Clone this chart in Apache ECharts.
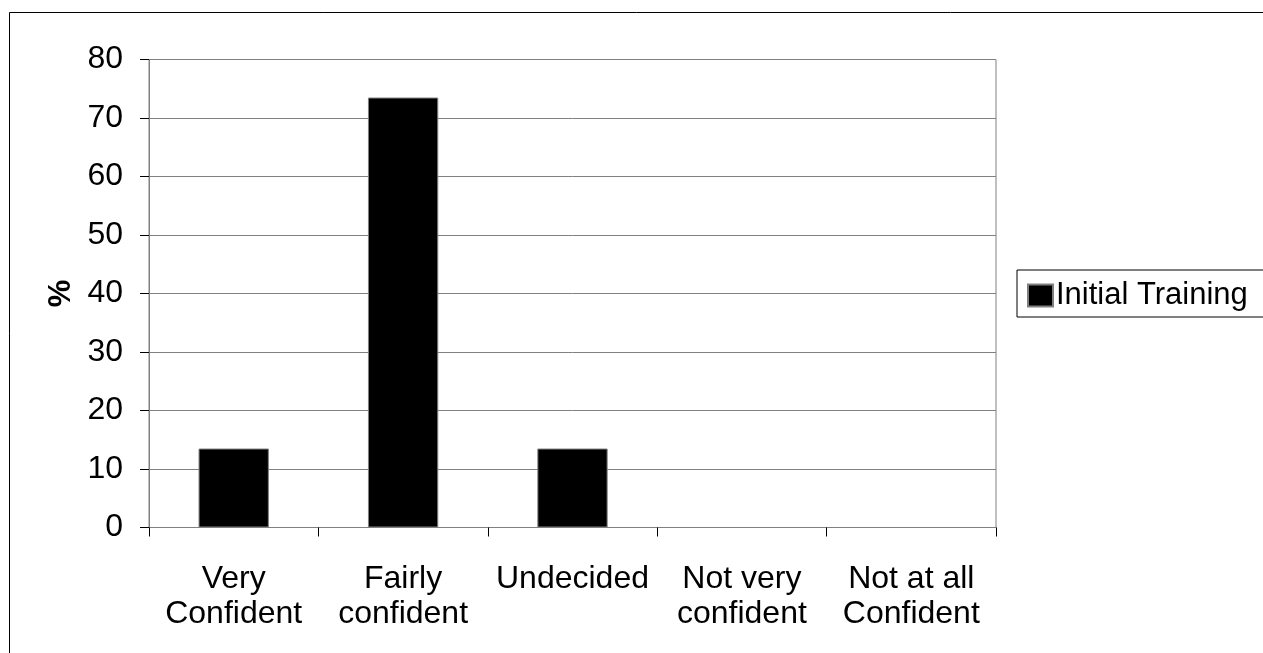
<!DOCTYPE html>
<html>
<head>
<meta charset="utf-8">
<title>Confidence after initial training</title>
<script src="https://cdn.jsdelivr.net/npm/echarts@6/dist/echarts.min.js"></script>
<style>
  html, body { margin: 0; padding: 0; background: #fff; }
  #chart { width: 1263px; height: 653px; }
</style>
</head>
<body>
<div id="chart"></div>
<script>
// Response categories (x axis)
const categories = ['Very\nConfident', 'Fairly\nconfident', 'Undecided', 'Not very\nconfident', 'Not at all\nConfident'];
// Percentage of respondents per category
const initialTraining = [13.5, 73.5, 13.5, 0, 0];
const seriesName = 'Initial Training';
const yAxisTitle = '%';

const FONT = 'Liberation Sans, Arial, sans-serif';

const chart = echarts.init(document.getElementById('chart'), null, { renderer: 'canvas' });

chart.setOption({
  backgroundColor: '#fff',
  animation: false,
  graphic: [{
    // outer chart-area frame
    type: 'rect',
    shape: { x: 9.5, y: 12.5, width: 1400, height: 800 },
    style: { fill: 'none', stroke: '#000', lineWidth: 1 },
    silent: true,
    z: -1
  }],
  grid: {
    left: 149,
    top: 59.5,
    right: 267,
    bottom: 125.5,
    show: true,
    borderColor: '#808080',
    borderWidth: 1,
    backgroundColor: 'transparent'
  },
  legend: {
    data: [seriesName],
    left: 1017,
    top: 270,
    orient: 'vertical',
    backgroundColor: '#fff',
    borderColor: '#000',
    borderWidth: 1,
    padding: [10, 24, 6, 10],
    itemWidth: 25,
    itemHeight: 22,
    itemGap: 0,
    icon: 'rect',
    textStyle: { fontFamily: FONT, fontSize: 31, color: '#000', padding: [0, 0, 0, -2] }
  },
  xAxis: {
    type: 'category',
    data: categories,
    boundaryGap: true,
    axisLine: { show: true, lineStyle: { color: '#808080', width: 1 } },
    axisTick: { show: true, length: 9, alignWithLabel: false, lineStyle: { color: '#000', width: 1 } },
    axisLabel: {
      fontFamily: FONT, fontSize: 32, color: '#000', margin: 34,
      lineHeight: 35, align: 'center', interval: 0
    },
    splitLine: { show: false }
  },
  yAxis: {
    type: 'value',
    min: 0,
    max: 80,
    interval: 10,
    name: yAxisTitle,
    nameLocation: 'middle',
    nameGap: 71,
    nameRotate: 90,
    nameTextStyle: { fontFamily: FONT, fontSize: 31, fontWeight: 'bold', color: '#000' },
    axisLine: { show: true, lineStyle: { color: '#808080', width: 1 } },
    axisTick: { show: true, length: 9, lineStyle: { color: '#000', width: 1 } },
    axisLabel: { fontFamily: FONT, fontSize: 32, color: '#000', margin: 26 },
    splitLine: { show: true, lineStyle: { color: '#808080', width: 1 } }
  },
  series: [{
    name: seriesName,
    type: 'bar',
    data: initialTraining,
    barWidth: '41.5%',
    itemStyle: { color: '#000', borderColor: '#808080', borderWidth: 1 }
  }]
});
</script>
</body>
</html>
